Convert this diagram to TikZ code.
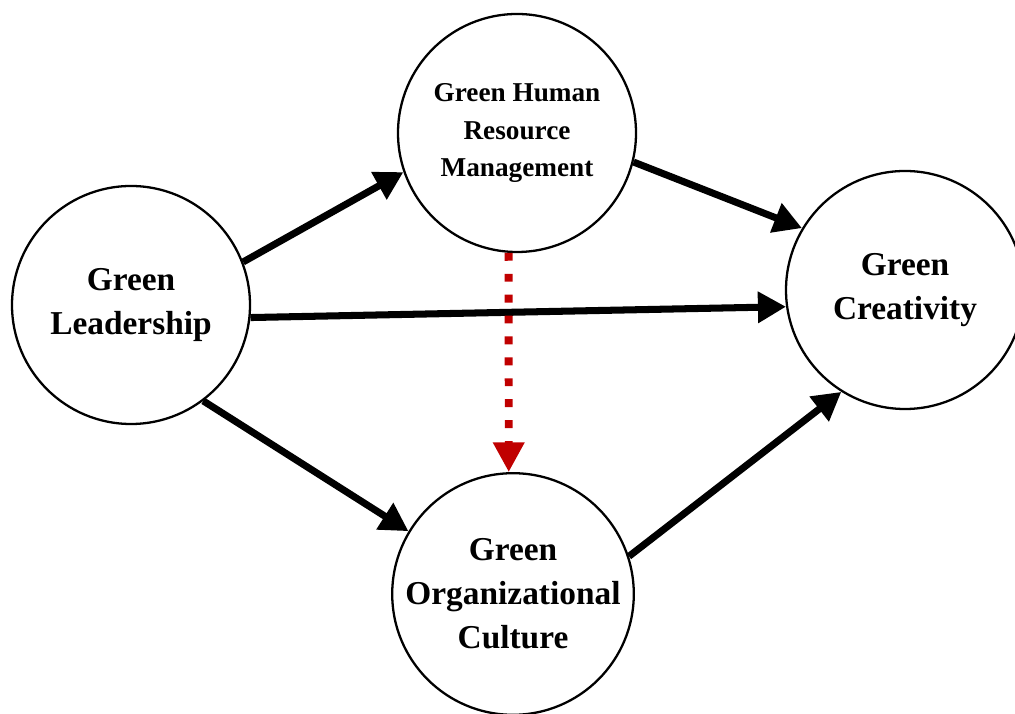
\documentclass[tikz,border=0pt]{standalone}
\usepackage{fontspec}
\setmainfont{Liberation Serif}
\usetikzlibrary{arrows.meta}

\definecolor{dotred}{RGB}{192,0,0}

\begin{document}
\begin{tikzpicture}[
    var/.style={circle, draw, line width=1.3pt, minimum size=4.76cm, inner sep=0pt,
      align=center, font=\bfseries\fontsize{19}{25}\selectfont},
    path/.style={line width=4pt, -{Triangle[length=16pt,width=17pt]}},
    med/.style={dotred, line width=4.5pt, dash pattern=on 4.5pt off 7.4pt,
      -{Triangle[length=17pt,width=17pt]}}
  ]
      \useasboundingbox (0,0) rectangle (20.3,14.26);
      \node[var] (GL) at (2.62,8.16) {Green\\Leadership};
      \node[var, font=\bfseries\fontsize{15.5}{21.5}\selectfont] (GHRM) at (10.34,11.6) {Green Human\\Resource\\Management};
      \node[var] (GC) at (18.1,8.46) {Green\\Creativity};
      \node[var] (GOC) at (10.26,2.38) {Green\\Organizational\\Culture};
      \draw [path] (GL.21) -- (GHRM.199);
      \draw [path] (GHRM.-14) -- (GC.149);
      \draw [path] (GL.-6) -- (GC.188);
      \draw [path] (GL.-53) -- (GOC.149);
      \draw [path] (GOC.18) -- (GC.-122);
      \draw [med] (GHRM.-94) -- (GOC.92);
    \end{tikzpicture}
\end{document}
